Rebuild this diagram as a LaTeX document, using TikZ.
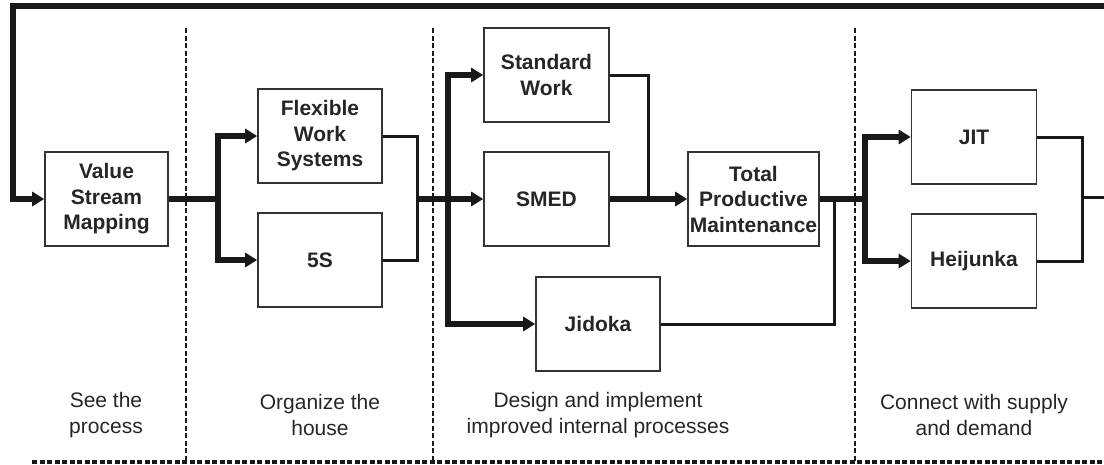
\documentclass[tikz,border=0pt]{standalone}
\usepackage{fontspec}
\setmainfont{Liberation Sans}
\usetikzlibrary{arrows.meta,positioning}

\begin{document}
\begin{tikzpicture}[x=1pt,y=-1pt,
    box/.style={rectangle, draw=black!80, line width=1.6pt, fill=white,
      minimum width=124pt, minimum height=94pt, inner sep=0pt, align=center,
      text=black!85, font=\bfseries\fontsize{21}{25.5}\selectfont},
    lbl/.style={align=center, text=black!85, font=\fontsize{21}{26.5}\selectfont},
    thick line/.style={line width=6pt, draw=black!90},
    thin line/.style={line width=3pt, draw=black!90},
    sep/.style={line width=2.5pt, draw=black!90, dash pattern=on 5pt off 2.5pt},
    >={Triangle[length=12pt,width=14pt]}]

  \useasboundingbox (0,0) rectangle (1104,464);
  \clip (0,0) rectangle (1104,464);

  % phase separators
  \draw[sep] (186,28) -- (186,462);
  \draw[sep] (433,28) -- (433,462);
  \draw[sep] (855,28) -- (855,462);
  \draw[sep, line width=3.5pt] (32,462) -- (1104,462);

  % tools
  \node[box, minimum width=123pt] (vsm) at (106.5,199) {Value\\Stream\\Mapping};
  \node[box] (fws) at (320,136) {Flexible\\Work\\Systems};
  \node[box] (fives) at (320,260) {5S};
  \node[box, minimum width=125pt] (sw) at (546.5,75) {Standard\\Work};
  \node[box, minimum width=125pt] (smed) at (546.5,199) {SMED};
  \node[box, minimum width=131pt] (tpm) at (753.5,199) {Total\\Productive\\Maintenance};
  \node[box] (jid) at (598,324) {Jidoka};
  \node[box, minimum width=125pt] (jit) at (974,137) {JIT};
  \node[box, minimum width=125pt] (hei) at (974,261) {Heijunka};

  % phase labels
  \node[lbl] (see) at (106,415) {See the\\process};
  \node[lbl] (org) at (320,415) {Organize the\\house};
  \node[lbl] (des) at (598,415) {Design and implement\\improved internal processes};
  \node[lbl] (con) at (974,415) {Connect with supply\\and demand};

  % junctions
  \coordinate (j1) at (218,199);
  \coordinate (j2) at (417,199);
  \coordinate (j3) at (448,199);
  \coordinate (j4) at (648,199);
  \coordinate (j5) at (834,199);
  \coordinate (j6) at (865,199);
  \coordinate (j7) at (1082,197);
  \coordinate (out) at (1112,197);
  \coordinate (back) at (1112,6);
  \coordinate (fbl) at (13,6);

  % flow
  \draw[thick line] (vsm.east) -- (j1);
  \draw[thick line,->] (j1) |- (fws.west);
  \draw[thick line,->] (j1) |- (fives.west);
  \draw[thin line] (fws.east) -| (j2) |- (fives.east);
  \draw[thick line] (j2) -- (j3);
  \draw[thick line,->] (j3) -- (smed.west);
  \draw[thick line,->] (j3) |- (sw.west);
  \draw[thick line,->] (j3) |- (jid.west);
  \draw[thin line] (sw.east) -| (j4);
  \draw[thick line,->] (smed.east) -- (tpm.west);
  \draw[thick line] (tpm.east) -- (j6);
  \draw[thin line] (jid.east) -| (j5);
  \draw[thick line,->] (j6) |- (jit.west);
  \draw[thick line,->] (j6) |- (hei.west);
  \draw[thin line] (jit.east) -| (j7) |- (hei.east);
  \draw[thin line] (j7) -- (out);
  % feedback
  \draw[thick line,->] (back) -- (fbl) |- (vsm.west);
\end{tikzpicture}
\end{document}
